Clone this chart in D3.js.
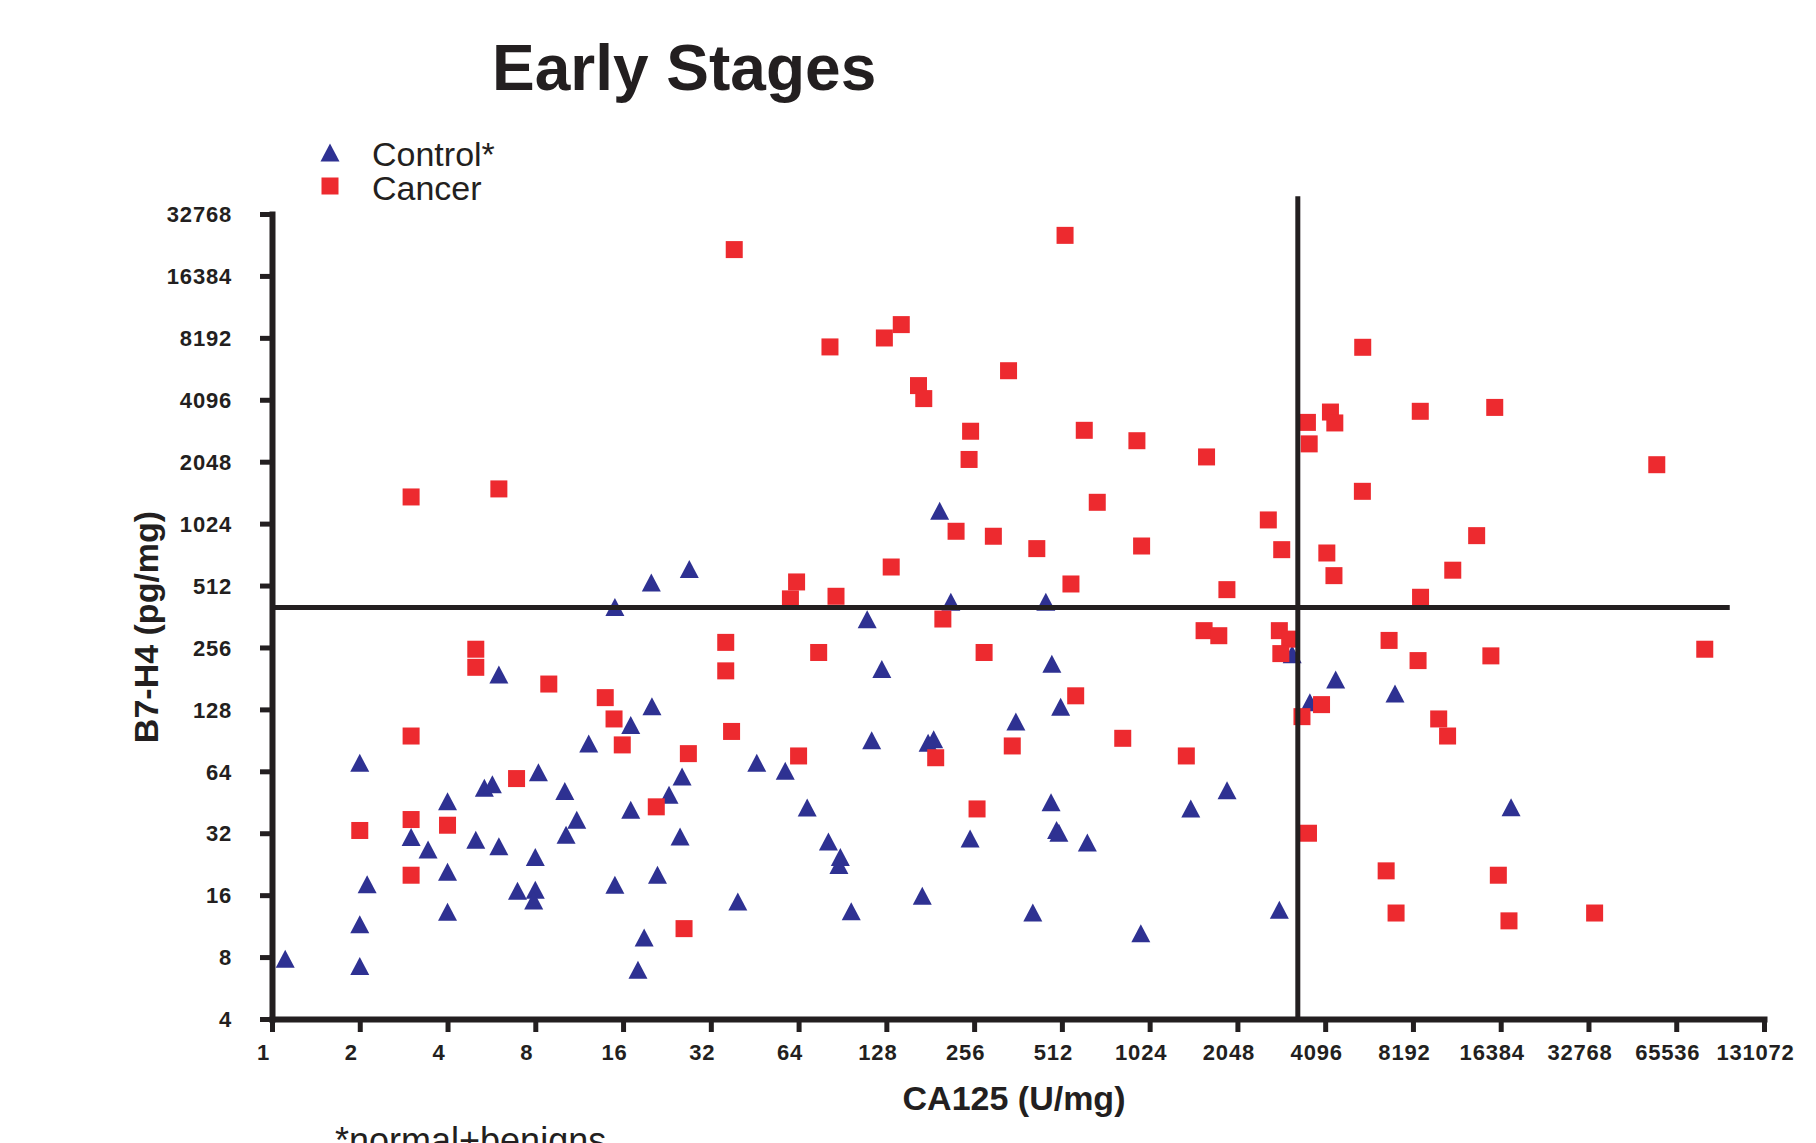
<!DOCTYPE html>
<html>
<head>
<meta charset="utf-8">
<script src="https://cdn.jsdelivr.net/npm/d3@7"></script>
<style>
  html, body { margin: 0; padding: 0; background: #ffffff; }
  svg { display: block; }
  text { font-family: "Liberation Sans", Arial, Helvetica, sans-serif; fill: #231F20; }
</style>
</head>
<body>
<script>
// ---------------- DATA ----------------
const chartTitle = "Early Stages";
const xAxisTitle = "CA125 (U/mg)";
const yAxisTitle = "B7-H4 (pg/mg)";
const footnote = "*normal+benigns";
const seriesNames = ["Control*", "Cancer"];

const xTicks = [1, 2, 4, 8, 16, 32, 64, 128, 256, 512, 1024, 2048, 4096, 8192, 16384, 32768, 65536, 131072];
const yTicks = [4, 8, 16, 32, 64, 128, 256, 512, 1024, 2048, 4096, 8192, 16384, 32768];

// cut-off lines
const cutoffCA125 = 3300;
const cutoffB7H4 = 400;
const cutoffCA125Top = 40000;    // vertical line extends a little above the axis top
const cutoffB7H4End = 100000;    // horizontal line ends before the axis end

// Control* (triangles)
const controlCA125 = [1.11, 2, 2, 2, 2.12, 3, 3.43, 4, 4, 4, 5, 5.35, 5.7, 6, 6, 6.95, 8, 7.9, 8, 8.2,
  10.1, 10.2, 11.1, 12.2, 15, 15, 17, 17, 18, 18.9, 20.1, 21, 23, 25.1, 25.5, 20, 27, 39.6, 46, 57.6,
  68.5, 81, 88, 89, 97, 110, 114, 123.5, 170, 178, 186, 195, 213, 248, 356, 407, 451, 470, 473, 491,
  500, 507, 626, 955, 1417, 1887, 2852, 3156, 3630, 4450, 7110, 17780];
const controlB7H4 = [7.8, 70, 11.5, 7.2, 18, 30.5, 26.5, 45.5, 20.7, 13.2, 29.6, 53, 55, 188, 27.5, 16.7, 16.9, 15, 24.4, 63,
  51, 31.3, 37, 87, 17.9, 400, 107, 41.4, 6.9, 9.9, 132, 20, 49, 30.7, 60, 527, 612, 14.8, 70, 64,
  42.5, 29, 22.3, 24.4, 13.3, 349, 90, 200, 15.8, 87.5, 91, 1175, 425, 30, 111, 13.1, 425, 45, 212, 33,
  32, 131, 28.7, 10.4, 42, 51.5, 13.5, 236, 138, 178, 152, 42.6];

// Cancer (squares)
const cancerCA125 = [2, 3, 3, 3, 4, 5, 5, 6.9, 8.9, 13.9, 14.9, 15.9, 20.8, 26.8, 25.9,
  3, 6,
  38.5, 525, 82, 126, 144, 336, 165, 172, 249, 246, 611, 926, 1605, 677, 222, 298, 420, 961, 2614, 2906,
  133, 63, 60, 86, 550, 1885,
  200, 36, 36, 75, 277, 37.7, 64, 189, 346, 571, 828, 1368, 262, 1574, 1768, 2852,
  3095, 2886, 3980, 3410, 6785, 8530, 10040, 10770, 15160, 82100, 3590, 6630, 7170, 16080, 17490, 34400,
  5510, 3560, 4270, 4420, 3610, 8680, 15630, 56200, 5495, 4150, 4390, 13550, 11220, 8700];
const cancerB7H4 = [33, 95, 37.3, 20, 35, 251, 205, 59, 170, 146, 115, 86, 43, 78, 11,
  1380, 1510,
  22000, 25800, 7400, 8180, 9500, 5670, 4800, 4150, 2880, 2100, 2910, 2590, 2160, 1300, 940, 889, 774, 797, 1067, 765,
  630, 533, 441, 454, 521, 489,
  352, 271, 197, 242, 242, 100, 76, 74.5, 85, 149, 92.6, 76, 42, 309, 292, 309,
  281, 239, 135, 118, 277, 221, 115, 95, 233, 251, 32, 21, 13.1, 20, 12, 13.1,
  7370, 3180, 3570, 3160, 2500, 3600, 3760, 1980, 1470, 737, 572, 895, 608, 449];

// ---------------- CHART ----------------
const W = 1816, H = 1143;
const ink = "#231F20";
const blue = "#2E3192";
const red = "#ED2A2F";

const svg = d3.select("body").append("svg").attr("width", W).attr("height", H);

const x = d3.scaleLog().base(2).domain([1, 131072]).range([272, 1764]);
const y = d3.scaleLog().base(2).domain([4, 32768]).range([1019, 214]);

const triPath = "M0,-9.5L9.5,8.5L-9.5,8.5Z";
const sq = 17;

const control = controlCA125.map((v, i) => ({ x: v, y: controlB7H4[i] }));
const cancer = cancerCA125.map((v, i) => ({ x: v, y: cancerB7H4[i] }));

// markers
svg.append("g").selectAll("path").data(control).join("path")
  .attr("d", triPath)
  .attr("transform", d => `translate(${x(d.x)},${y(d.y)})`)
  .attr("fill", blue);

svg.append("g").selectAll("rect").data(cancer).join("rect")
  .attr("x", d => x(d.x) - sq / 2)
  .attr("y", d => y(d.y) - sq / 2)
  .attr("width", sq).attr("height", sq)
  .attr("fill", red);

// cut-off lines
svg.append("line")
  .attr("x1", x(cutoffCA125)).attr("x2", x(cutoffCA125))
  .attr("y1", y(cutoffCA125Top)).attr("y2", y(4))
  .attr("stroke", ink).attr("stroke-width", 5);
svg.append("line")
  .attr("x1", x(1)).attr("x2", x(cutoffB7H4End))
  .attr("y1", y(cutoffB7H4)).attr("y2", y(cutoffB7H4))
  .attr("stroke", ink).attr("stroke-width", 5);

// axes
const fmt = d3.format("d");
const xAxis = d3.axisBottom(x).tickValues(xTicks).tickFormat(fmt).tickSize(13).tickSizeOuter(0);
const yAxis = d3.axisLeft(y).tickValues(yTicks).tickFormat(fmt).tickSize(12).tickSizeOuter(0);

const gx = svg.append("g").attr("transform", `translate(0,${y(4)})`).call(xAxis);
const gy = svg.append("g").attr("transform", `translate(${x(1)},0)`).call(yAxis);

[gx, gy].forEach(g => {
  g.select(".domain").attr("stroke", ink).attr("stroke-width", 6).attr("stroke-linecap", "square");
  g.selectAll(".tick line").attr("stroke", ink).attr("stroke-width", 5);
  g.selectAll(".tick text")
    .attr("fill", ink)
    .style("font-family", '"Liberation Sans", Arial, sans-serif')
    .style("font-size", "22px")
    .style("font-weight", "bold")
    .style("letter-spacing", "0.8px");
});
gx.selectAll(".tick text").attr("y", 41).attr("dy", 0).attr("dx", -9);
gy.selectAll(".tick text").attr("x", -40).attr("dy", "0.35em");

// title
svg.append("text")
  .attr("x", 492).attr("y", 90)
  .style("font-size", "64px").style("font-weight", "bold")
  .text(chartTitle);

// axis titles
svg.append("text")
  .attr("x", 1014).attr("y", 1110)
  .attr("text-anchor", "middle")
  .style("font-size", "34px").style("font-weight", "bold")
  .text(xAxisTitle);

svg.append("text")
  .attr("transform", "translate(158,627) rotate(-90)")
  .attr("text-anchor", "middle")
  .style("font-size", "34px").style("font-weight", "bold")
  .text(yAxisTitle);

// legend
const legend = svg.append("g");
legend.append("path").attr("d", triPath).attr("transform", "translate(330,153)").attr("fill", blue);
legend.append("rect").attr("x", 330 - sq / 2).attr("y", 186 - sq / 2).attr("width", sq).attr("height", sq).attr("fill", red);
legend.append("text").attr("x", 372).attr("y", 166).style("font-size", "34px").text(seriesNames[0]);
legend.append("text").attr("x", 372).attr("y", 200).style("font-size", "34px").text(seriesNames[1]);

// footnote (cut by the bottom edge as in the original)
svg.append("text").attr("x", 335).attr("y", 1153).style("font-size", "36px").text(footnote);
</script>
</body>
</html>
